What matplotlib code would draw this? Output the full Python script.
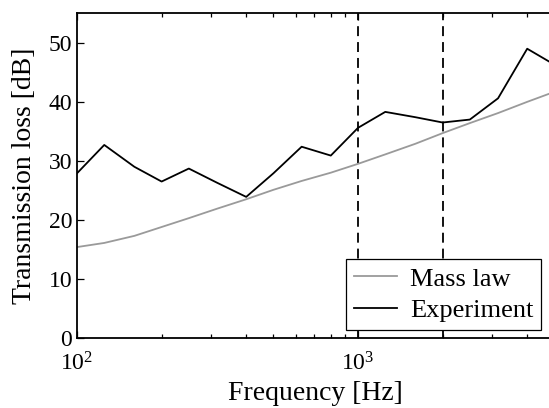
import numpy as np
import matplotlib
matplotlib.use('Agg')
import matplotlib.pyplot as plt

plt.rcParams['font.family'] = 'serif'
plt.rcParams['font.serif'] = ['Liberation Serif', 'DejaVu Serif']
plt.rcParams['mathtext.fontset'] = 'custom'
plt.rcParams['mathtext.rm'] = 'Liberation Serif'
plt.rcParams['mathtext.it'] = 'Liberation Serif:italic'

# third-octave band centre frequencies [Hz]
freq = [100, 125, 160, 200, 250, 315, 400, 500, 630, 800,
        1000, 1250, 1600, 2000, 2500, 3150, 4000, 5000]

# transmission loss [dB]
tl_mass = [15.4, 16.1, 17.3, 18.8, 20.3, 21.9, 23.5, 25.1, 26.6, 28.0,
           29.5, 31.1, 32.9, 34.7, 36.4, 38.1, 40.0, 41.7]
tl_exp = [27.9, 32.7, 29.0, 26.5, 28.7, 26.3, 23.9, 27.9, 32.4, 30.9,
          35.6, 38.3, 37.4, 36.5, 37.0, 40.6, 49.0, 46.3]

# band limits marked with dashed lines
band_edges = [1000, 2000]

labels = ['Mass law', 'Experiment']
xlabel = 'Frequency [Hz]'
ylabel = 'Transmission loss [dB]'


fig = plt.figure(figsize=(5.49, 4.08), dpi=100)
ax = fig.add_axes([0.1403, 0.1716, 0.8696, 0.7958])

for f in band_edges:
    ax.axvline(f, color='k', linestyle=(0, (5.5, 3.3)), linewidth=1.3, zorder=1)

ax.semilogx(freq, tl_mass, color='#9a9a9a', linewidth=1.3, label=labels[0], zorder=2)
ax.semilogx(freq, tl_exp, color='k', linewidth=1.3, label=labels[1], zorder=3)

ax.set_xlim(100, 5000)
ax.set_ylim(0, 55)
ax.set_yticks([0, 10, 20, 30, 40, 50])

# matlab style: ticks inside, mirrored on top (right side is cropped off)
ax.tick_params(which='both', direction='in', top=True, right=False, colors='k')
ax.tick_params(which='major', length=5, width=0.9, labelsize=17)
ax.tick_params(which='minor', length=3, width=0.9)
ax.tick_params(axis='x', which='major', pad=10)
ax.tick_params(axis='y', which='major', pad=3.5)
for s in ax.spines.values():
    s.set_linewidth(1.3)

ax.set_xlabel(xlabel, fontsize=20, labelpad=4)
ax.set_ylabel(ylabel, fontsize=20, labelpad=8)

leg = ax.legend(loc='lower right', bbox_to_anchor=(0.972, 0.0246), borderaxespad=0,
                fontsize=19, fancybox=False, framealpha=1, edgecolor='k',
                handlelength=1.63, handletextpad=0.48, borderpad=0.3,
                labelspacing=0.3)
leg.get_frame().set_linewidth(0.9)
leg.set_zorder(5)

fig.savefig('out.png', dpi=100)
